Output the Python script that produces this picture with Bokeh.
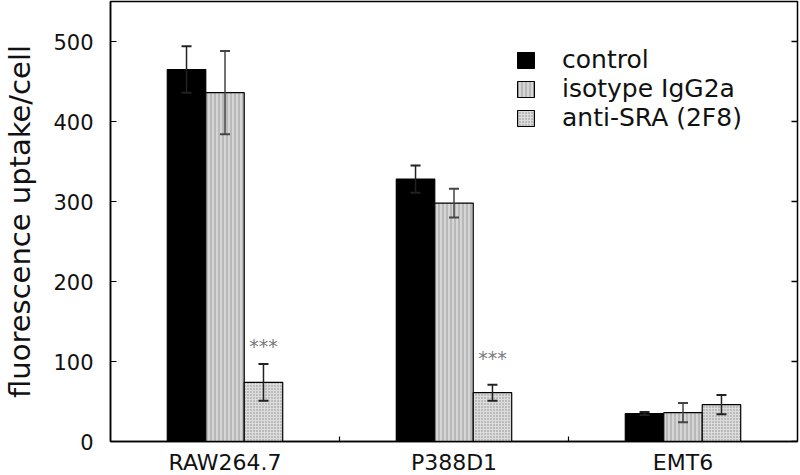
from bokeh.plotting import figure
from bokeh.models import (Range1d, FixedTicker, Whisker, ColumnDataSource,
                          Legend, LegendItem, TeeHead)
from bokeh.core.properties import value
from bokeh.embed import file_html
from bokeh.resources import INLINE

categories = ["RAW264.7", "P388D1", "EMT6"]
series = ["control", "isotype IgG2a", "anti-SRA (2F8)"]
control = [465, 328, 35]
control_err = [29, 17, 2]
isotype = [436, 298, 36]
isotype_err = [52, 18, 12]
anti = [74, 61, 46]
anti_err = [23, 10, 12]
stars = ["***", "***", ""]
star_y = [120, 104, 0]
y_ticks = [0, 100, 200, 300, 400, 500]

FONT = "DejaVu Sans"
BAR_W = 0.168
Y_MAX = 550

p = figure(output_backend="svg", toolbar_location=None,
           frame_width=687, frame_height=440,
           x_range=Range1d(0, len(categories)), y_range=Range1d(0, Y_MAX),
           min_border_left=110, min_border_right=3, min_border_top=1, min_border_bottom=34)
p.xgrid.visible = False
p.ygrid.visible = False
p.outline_line_color = "black"
p.outline_line_width = 1.5
p.outline_line_alpha = 1

centers = [i + 0.5 for i in range(len(categories))]

styles = [
    dict(fill_color="black"),
    dict(fill_color="#d6d6d6", hatch_pattern="vertical_line", hatch_color="#9c9c9c", hatch_scale=4, hatch_weight=1),
    dict(fill_color="#dcdcdc", hatch_pattern="dot", hatch_color="#8a8a8a", hatch_scale=3, hatch_weight=1),
]
vals = [control, isotype, anti]
errs = [control_err, isotype_err, anti_err]
items = []
for k, (name, v, e, st) in enumerate(zip(series, vals, errs, styles)):
    off = (k - 1) * BAR_W
    src = ColumnDataSource(dict(
        x=[c + off for c in centers], top=v,
        upper=[a + b for a, b in zip(v, e)], lower=[a - b for a, b in zip(v, e)]))
    r = p.vbar(x="x", top="top", bottom=0, width=BAR_W, source=src,
               line_color="black", line_width=1.2, **st)
    items.append(LegendItem(label=name, renderers=[r]))
    wcol = "#222222" if k != 1 else "#444444"
    p.add_layout(Whisker(base="x", upper="upper", lower="lower", source=src, level="overlay",
                         line_color=wcol, line_width=1.5,
                         upper_head=TeeHead(size=10, line_color=wcol, line_width=2),
                         lower_head=TeeHead(size=10, line_color=wcol, line_width=2)))

star_src = ColumnDataSource(dict(x=[c + BAR_W for c in centers], y=star_y, t=stars))
p.text(x="x", y="y", text="t", source=star_src, text_align="center", text_baseline="middle",
       text_font_size="19px", text_color="#7a7a7a", text_font=value(FONT))

# inward ticks on the right edge of the frame
p.scatter(x=[len(categories)] * len(y_ticks), y=y_ticks, marker="dash", size=12,
          line_color="black", line_width=1.3)

# axes
yax = p.yaxis[0]
yax.ticker = FixedTicker(ticks=y_ticks)
yax.major_tick_in = 6
yax.major_tick_out = 0
yax.minor_tick_line_color = None
yax.axis_line_width = 1.5
yax.major_tick_line_width = 1.2
yax.major_label_text_font = FONT
yax.major_label_text_font_size = "21px"
yax.major_label_text_color = "#111111"
yax.major_label_standoff = 17
yax.axis_label = "fluorescence uptake/cell"
yax.axis_label_text_font = FONT
yax.axis_label_text_font_size = "29px"
yax.axis_label_text_font_style = "normal"
yax.axis_label_text_color = "#111111"
yax.axis_label_standoff = 13

xax = p.xaxis[0]
xax.ticker = FixedTicker(ticks=centers, minor_ticks=[1, 2])
xax.major_tick_in = 0
xax.major_tick_out = 0
xax.minor_tick_in = 5
xax.minor_tick_out = 0
xax.minor_tick_line_width = 1.2
xax.axis_line_width = 1.5
xax.major_label_overrides = {c: name for c, name in zip(centers, categories)}
xax.major_label_text_font = FONT
xax.major_label_text_font_size = "22px"
xax.major_label_text_color = "#111111"
xax.major_label_standoff = 8

legend = Legend(items=items, location=(405, 440 - 131), border_line_color=None,
                background_fill_alpha=0, label_text_font=FONT, label_text_font_size="25px",
                label_text_color="#111111", glyph_width=21, glyph_height=20,
                label_standoff=26, spacing=0, padding=0, margin=0, label_height=27)
p.add_layout(legend)

open("out.html", "w").write(file_html(p, INLINE))
